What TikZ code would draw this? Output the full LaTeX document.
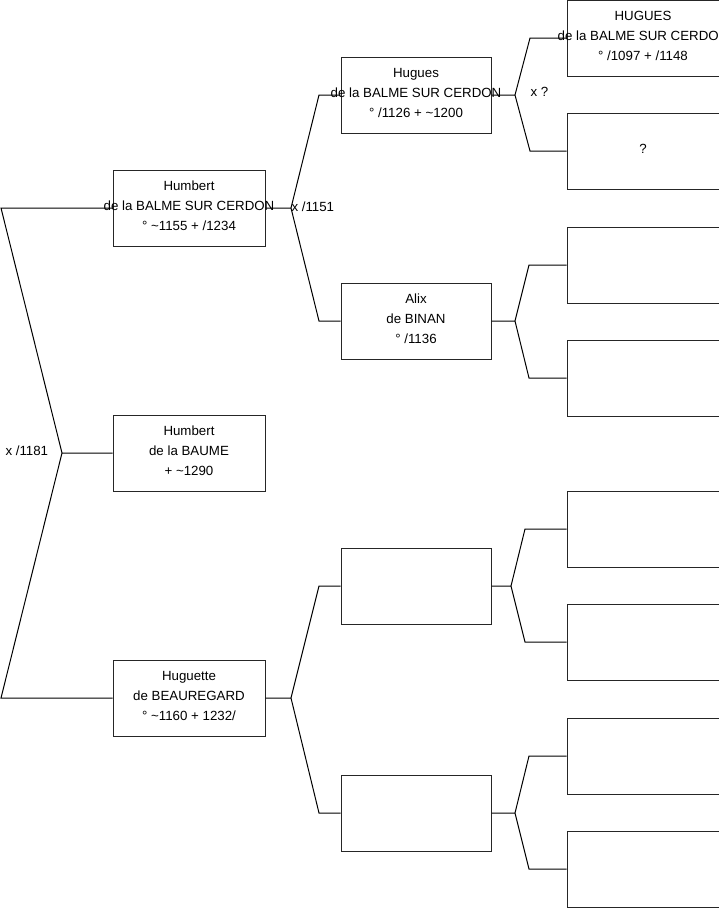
\documentclass[tikz,border=0pt]{standalone}
\usepackage{fontspec}
\setmainfont{Liberation Sans}
\usetikzlibrary{calc,positioning}

\begin{document}
\begin{tikzpicture}[
  x=1pt,
  y=-1pt,
  line width=1pt,
  person/.style={rectangle,draw=black!85,minimum width=152pt,minimum height=76pt,inner sep=0pt},
  personlabel/.style={align=center,inner sep=0pt,yshift=2pt,font=\fontsize{13.3}{20}\selectfont},
  wedding/.style={right,inner sep=0pt,font=\fontsize{13.3}{20}\selectfont},
  link/.style={draw=black}
]%
  \useasboundingbox (0,0) rectangle (719,908);

  % Gen 1
  \node[person] (humbert) at (189,208) {};
  \node[personlabel] (humbertT) at (humbert) {Humbert\\de la BALME SUR CERDON\\° \textasciitilde1155 + /1234};
  \node[person] (baume) at (189,453) {};
  \node[personlabel] (baumeT) at (baume) {Humbert\\de la BAUME\\+ \textasciitilde1290};
  \node[person] (huguette) at (189,698) {};
  \node[personlabel] (huguetteT) at (huguette) {Huguette\\de BEAUREGARD\\° \textasciitilde1160 + 1232/};

  % Gen 2
  \node[person,minimum width=150pt] (hugues) at (416,95) {};
  \node[personlabel] (huguesT) at (hugues) {Hugues\\de la BALME SUR CERDON\\° /1126 + \textasciitilde1200};
  \node[person,minimum width=150pt] (alix) at (416,321) {};
  \node[personlabel] (alixT) at (alix) {Alix\\de BINAN\\° /1136};
  \node[person,minimum width=150pt] (mgf) at (416,586) {};
  \node[person,minimum width=150pt] (mgm) at (416,813) {};

  % Gen 3
  \node[person] (ggf1) at (643,38) {};
  \node[personlabel] (ggf1T) at (ggf1) {HUGUES\\de la BALME SUR CERDON\\° /1097 + /1148};
  \node[person] (ggm1) at (643,151) {};
  \node[personlabel] (ggm1T) at (ggm1) {?};
  \node[person] (ggf2) at (643,265) {};
  \node[person] (ggm2) at (643,378) {};
  \node[person] (ggf3) at (643,529) {};
  \node[person] (ggm3) at (643,642) {};
  \node[person] (ggf4) at (643,756) {};
  \node[person] (ggm4) at (643,869) {};

  % Root
  \coordinate (root) at (62,453);
  \draw[link]
    (humbert.west) -- (1,208) -- (root) -- (1,698) -- (huguette.west)
    (root) -- (baume.west);
  \node[wedding] (wed0) at (5,451) {x /1181};

  % Father / mother of Humbert
  \coordinate (fork1) at (291,208);
  \draw[link]
    (humbert.east) -- (fork1) -- (319,95) -- (hugues.west)
    (fork1) -- (319,321) -- (alix.west);
  \node[wedding] (wed1) at (291,207) {x /1151};

  \coordinate (fork2) at (291,698);
  \draw[link]
    (huguette.east) -- (fork2) -- (319,586) -- (mgf.west)
    (fork2) -- (319,813) -- (mgm.west);

  % Gen 3 forks
  \coordinate (fork3) at (515,95);
  \draw[link]
    (hugues.east) -- (fork3) -- (530,38) -- (ggf1.west)
    (fork3) -- (530,151) -- (ggm1.west);
  \node[wedding] (wed3) at (530,92) {x ?};

  \coordinate (fork4) at (515,321);
  \draw[link]
    (alix.east) -- (fork4) -- (529,265) -- (ggf2.west)
    (fork4) -- (529,378) -- (ggm2.west);

  \coordinate (fork5) at (511,586);
  \draw[link]
    (mgf.east) -- (fork5) -- (525,529) -- (ggf3.west)
    (fork5) -- (525,642) -- (ggm3.west);

  \coordinate (fork6) at (515,813);
  \draw[link]
    (mgm.east) -- (fork6) -- (529,756) -- (ggf4.west)
    (fork6) -- (529,869) -- (ggm4.west);

\end{tikzpicture}
\end{document}
